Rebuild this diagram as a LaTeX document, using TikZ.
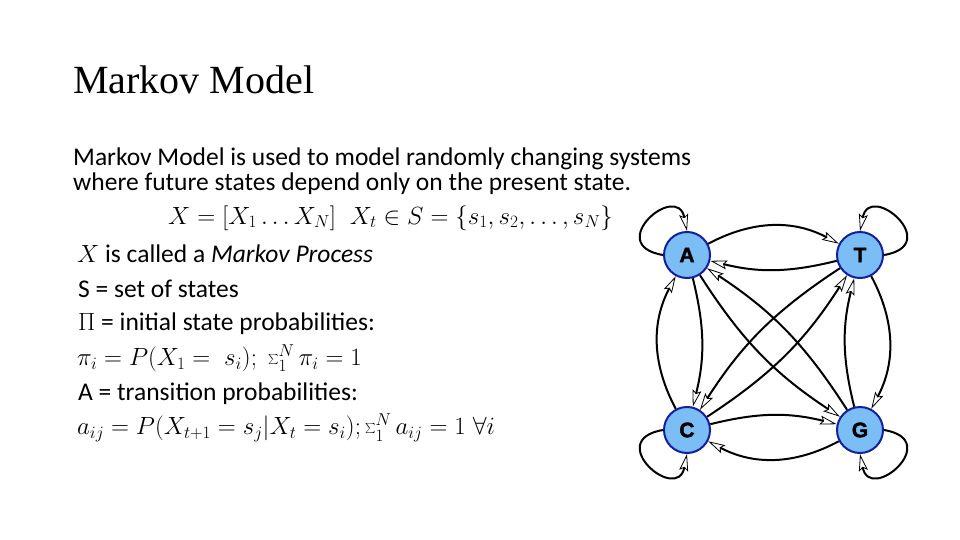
\documentclass[tikz,border=0pt]{standalone}
\usepackage{fontspec}
\setmainfont{Carlito}
\newfontfamily\titlefont{Liberation Serif}
\newfontfamily\nodefont{Liberation Sans}[FakeBold=2]
\usetikzlibrary{arrows.meta}
\definecolor{nodefill}{RGB}{122,190,245}
\definecolor{nodeedge}{RGB}{20,30,160}
\begin{document}
\begin{tikzpicture}[x=1pt,y=1pt,
  st/.style={circle,draw=nodeedge,line width=2pt,fill=nodefill,minimum size=46pt,inner sep=0pt,font=\nodefont\fontsize{21}{21}\selectfont\bfseries},
  ed/.style={line width=2pt,-{Stealth[open,length=17pt,width=9pt,line width=0.8pt,inset=3pt]}},
  txt/.style={anchor=west,inner sep=0pt,font=\fontsize{25.5}{27}\selectfont}]
\useasboundingbox (0,0) rectangle (960,-540);
\node[anchor=west,inner sep=0pt,font=\titlefont\fontsize{40}{40}\selectfont] (title) at (73,-80) {Markov Model};
\node[txt] (l1) at (73,-159) {Markov Model is used to model randomly changing systems};
\node[txt] (l2) at (73,-184) {where future states depend only on the present state.};
\node[txt] (l3) at (168,-218) {$X=[X_1\ldots X_N]\;\; X_t\in S=\{s_1,s_2,\ldots,s_N\}$};
\node[txt] (l4) at (77,-254) {$X$ is called a \textit{Markov Process}};
\node[txt] (l5) at (78,-289) {S = set of states};
\node[txt] (l6) at (78,-324) {$\Pi$ = initial state probabilities:};
\node[txt] (l7) at (77,-358) {$\pi_i=P(X_1=\;s_i);\;\sum\nolimits_1^N\pi_i=1$};
\node[txt] (l8) at (78,-394) {A = transition probabilities:};
\node[txt] (l9) at (77,-428) {$a_{ij}=P\bigl(X_{t+1}=s_j\big|X_t=s_i\bigr);\sum\nolimits_1^N a_{ij}=1\;\forall i$};
\node[st] (A) at (687,-255) {A};
\node[st] (T) at (860,-255) {T};
\node[st] (C) at (687,-430) {C};
\node[st] (G) at (860,-430) {G};
% top / bottom
\draw[ed] (A) to[bend left=28] (T);
\draw[ed] (T) to[bend left=14] (A);
\draw[ed] (G) to[bend left=28] (C);
\draw[ed] (C) to[bend left=14] (G);
% left / right
\draw[ed] (C) to[bend left=28] (A);
\draw[ed] (A) to[bend left=14] (C);
\draw[ed] (T) to[bend left=28] (G);
\draw[ed] (G) to[bend left=14] (T);
% diagonals
\draw[ed] (A) to[bend right=12] (G);
\draw[ed] (G) to[bend right=12] (A);
\draw[ed] (C) to[bend right=12] (T);
\draw[ed] (T) to[bend right=12] (C);
% loops
\draw[ed] (A.west) .. controls +(-60,10) and +(-10,50) .. (A.north);
\draw[ed] (T.east) .. controls +(60,10) and +(10,50) .. (T.north);
\draw[ed] (C.west) .. controls +(-60,-10) and +(-10,-50) .. (C.south);
\draw[ed] (G.east) .. controls +(60,-10) and +(10,-50) .. (G.south);
\end{tikzpicture}
\end{document}
